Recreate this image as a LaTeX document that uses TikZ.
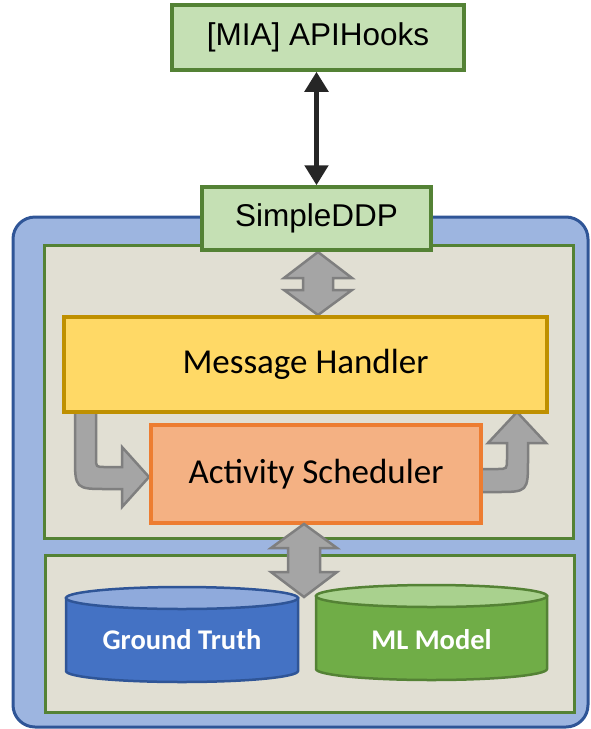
\documentclass[tikz,border=0pt]{standalone}
\usepackage{fontspec}
\setmainfont{Liberation Sans}
\newfontfamily\carlito{Carlito}
\usetikzlibrary{arrows.meta}
\definecolor{boxgreen}{HTML}{C5E0B4}
\definecolor{darkgreen}{HTML}{548235}
\definecolor{outerblue}{HTML}{9DB5E0}
\definecolor{darkblue}{HTML}{2F5597}
\definecolor{panelgray}{HTML}{E1DFD3}
\definecolor{mhfill}{HTML}{FFD966}
\definecolor{mhborder}{HTML}{BF9000}
\definecolor{asfill}{HTML}{F4B183}
\definecolor{asborder}{HTML}{ED7D31}
\definecolor{arrfill}{HTML}{A5A5A5}
\definecolor{arrborder}{HTML}{7F7F7F}
\definecolor{gtbody}{HTML}{4472C4}
\definecolor{gttop}{HTML}{8FAADC}
\definecolor{mlbody}{HTML}{70AD47}
\definecolor{mltop}{HTML}{A9D18E}
\definecolor{blackarrow}{HTML}{262626}
\tikzset{
  greenbox/.style={draw=darkgreen, fill=boxgreen, line width=3.5pt, inner sep=0pt,
    font=\fontsize{31.5}{36}\selectfont},
  panel/.style={draw=darkgreen, fill=panelgray, line width=3pt},
  fatarrow/.style={draw=arrborder, fill=arrfill, line width=2.5pt, line join=miter},
  mainbox/.style={line width=4.5pt, inner sep=0pt, font=\carlito\fontsize{35}{40}\selectfont},
  dblabel/.style={text=white, font=\carlito\bfseries\fontsize{28.5}{32}\selectfont, inner sep=0pt},
  cylborder/.style={line width=2.5pt}
}
\begin{document}
\begin{tikzpicture}[x=1pt,y=-1pt]
\useasboundingbox (0,0) rectangle (591,729);
% outer container
\draw[draw=darkblue, fill=outerblue, line width=3pt, rounded corners=22pt] (13,217) rectangle (588,727);
% panels
\draw[panel] (44,245) rectangle (573,538);
\draw[panel] (45,555) rectangle (574,712);
% top gray double arrow
\draw[fatarrow] (318,252) -- (352,278) -- (333,278) -- (333,290) -- (352,290) -- (318,315)
  -- (284,290) -- (303,290) -- (303,278) -- (284,278) -- cycle;
% left bent arrow
\draw[fatarrow] (75,408) -- (96,408) -- (96,458) .. controls (96,467) .. (105,467) -- (122,467)
  -- (122,447) -- (149,477) -- (122,507) -- (122,489) -- (108,489) .. controls (75,489) .. (75,456) -- cycle;
% right bent arrow
\draw[fatarrow] (476,469) -- (497,469) .. controls (507,469) .. (507,459) -- (507,443) -- (488,443)
  -- (517,412) -- (546,443) -- (528,443) -- (528,459) .. controls (528,492) .. (496,492) -- (476,492) -- cycle;
% main boxes
\node[mainbox, draw=mhborder, fill=mhfill, minimum width=483pt, minimum height=95pt] (mh) at (305.5,364.5) {Message Handler};
\node[mainbox, draw=asborder, fill=asfill, minimum width=330pt, minimum height=98pt] (as) at (316,474) {Activity Scheduler};
% Ground Truth cylinder
\draw[cylborder, draw=darkblue, fill=gtbody] (66,598) -- (66,671) .. controls (66,677.08) and (117.93,682) .. (182,682)
  .. controls (246.07,682) and (298,677.08) .. (298,671) -- (298,598) -- cycle;
\draw[cylborder, draw=darkblue, fill=gttop] (182,598) ellipse [x radius=116, y radius=11];
\node[dblabel] (gt) at (182,640) {Ground Truth};
% ML Model cylinder
\draw[cylborder, draw=darkgreen, fill=mlbody] (316,596) -- (316,669) .. controls (316,675.08) and (367.71,680) .. (431.5,680)
  .. controls (495.29,680) and (547,675.08) .. (547,669) -- (547,596) -- cycle;
\draw[cylborder, draw=darkgreen, fill=mltop] (431.5,596) ellipse [x radius=115.5, y radius=11];
\node[dblabel] (ml) at (431.5,640) {ML Model};
% bottom gray double arrow
\draw[fatarrow] (304,524) -- (337,548) -- (320,548) -- (320,572) -- (337,572) -- (304,597)
  -- (271,572) -- (288,572) -- (288,548) -- (271,548) -- cycle;
% top nodes
\node[greenbox, minimum width=229pt, minimum height=63pt] (ddp) at (316.5,218.5) {SimpleDDP};
\node[greenbox, minimum width=292pt, minimum height=65pt] (api) at (318,37.5) {[MIA] APIHooks};
\draw[blackarrow, line width=5pt, {Triangle[width=23pt,length=20pt]}-{Triangle[width=23pt,length=20pt]}]
  (ddp.north |- api.south) -- (ddp.north);
\end{tikzpicture}
\end{document}
